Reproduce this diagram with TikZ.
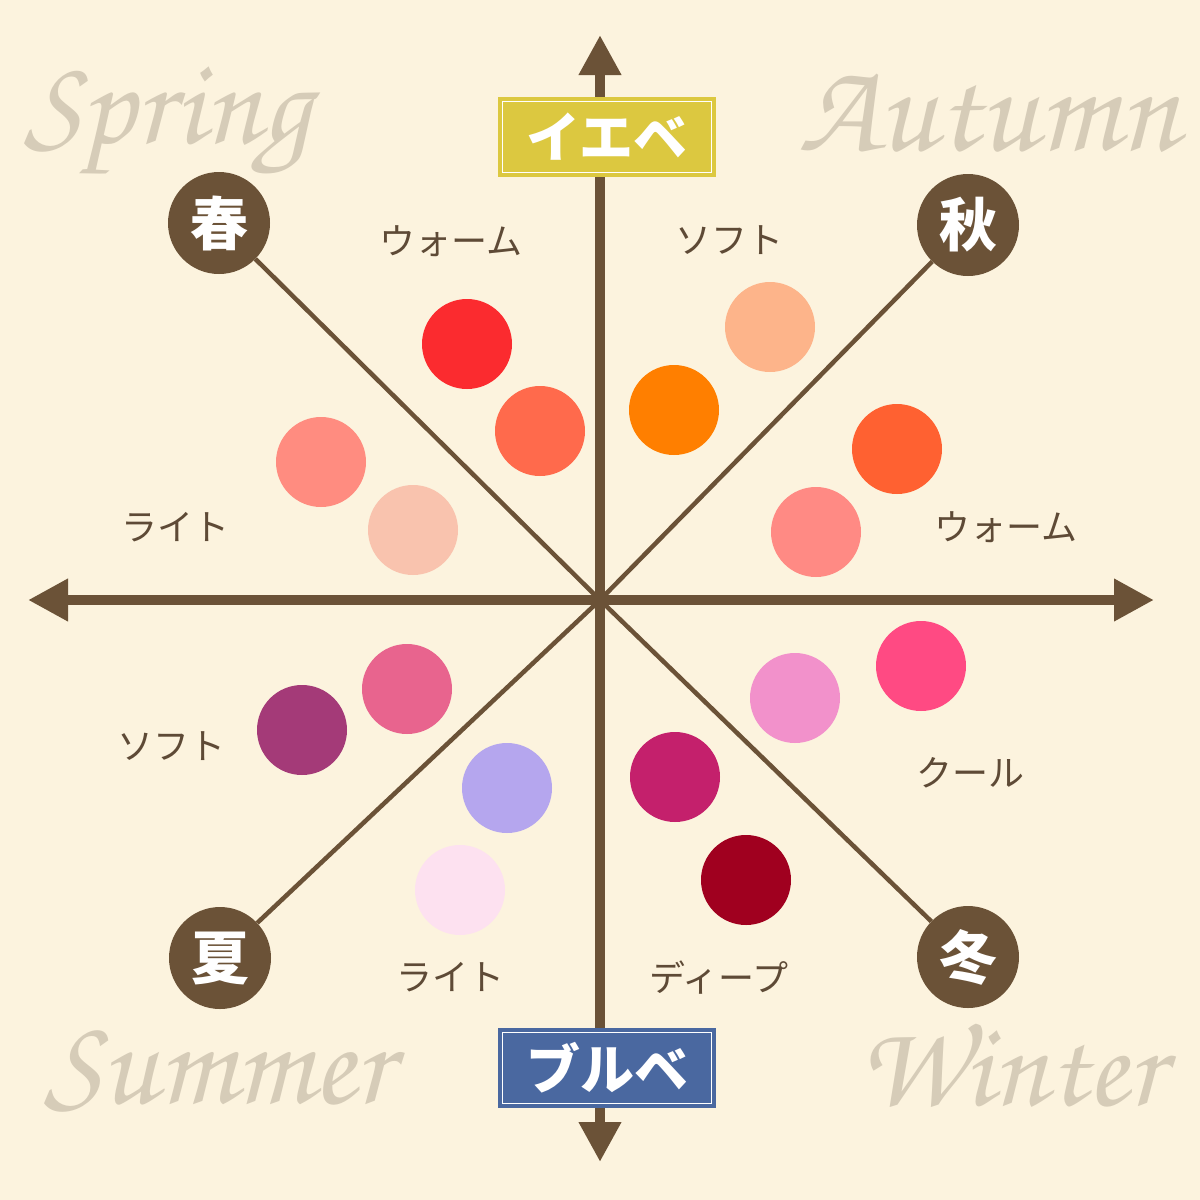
\documentclass[tikz,border=0pt]{standalone}
\usepackage{fontspec}
\usetikzlibrary{arrows.meta}
\newfontfamily\jp{Noto Sans CJK JP}
\newfontfamily\scr{texgyrechorus-mediumitalic.otf}
\definecolor{bg}{HTML}{FCF3DE}
\definecolor{brn}{HTML}{6B5237}
\definecolor{lbl}{HTML}{5E4A36}
\definecolor{scrc}{HTML}{D6CCB8}
\definecolor{ieY}{HTML}{DCC840}
\definecolor{buB}{HTML}{4A68A0}
\definecolor{c1}{HTML}{FB2B2F}
\definecolor{c2}{HTML}{FF6A4C}
\definecolor{c3}{HTML}{FF8C80}
\definecolor{c4}{HTML}{F9C3AE}
\definecolor{c5}{HTML}{FDB48A}
\definecolor{c6}{HTML}{FF7F00}
\definecolor{c7}{HTML}{FF6131}
\definecolor{c8}{HTML}{FF8A84}
\definecolor{c9}{HTML}{FF4A83}
\definecolor{c10}{HTML}{F291CB}
\definecolor{c11}{HTML}{C4206C}
\definecolor{c12}{HTML}{A0001F}
\definecolor{c13}{HTML}{E8648E}
\definecolor{c14}{HTML}{A43A78}
\definecolor{c15}{HTML}{B5A6EE}
\definecolor{c16}{HTML}{FDE1F0}
\tikzset{
  season/.style={circle, fill=brn, inner sep=0pt, minimum size=102pt, text=white,
    font=\jp\bfseries\fontsize{58}{58}\selectfont},
  dot/.style={circle, inner sep=0pt, minimum size=90pt, fill=#1},
  axisline/.style={draw=brn, line width=10pt,
    {Triangle[length=40pt,width=40pt]}-{Triangle[length=40pt,width=40pt]}},
  diag/.style={draw=brn, line width=4.5pt},
  tagbox/.style={rectangle, inner sep=0pt, minimum width=209pt, minimum height=71pt,
    fill=#1, draw=white, line width=1.3pt, preaction={draw=#1, line width=9pt},
    text=white, font=\jp\bfseries\fontsize{54}{54}\selectfont},
  lab/.style={text=lbl, inner sep=0pt, font=\jp\fontsize{36}{36}\selectfont},
  scrtext/.style={text=scrc, inner sep=0pt, anchor=base west}
}
\begin{document}
\begin{tikzpicture}[x=1pt,y=-1pt]
\fill[bg] (0,0) rectangle (1200,1200);
\useasboundingbox (0,0) rectangle (1200,1200);
% script words
\node[scrtext] (wsp) at (24,143) {\resizebox{286pt}{!}{\scr Spring}};
\node[scrtext] (wau) at (798,150) {\resizebox{380pt}{!}{\scr Autumn}};
\node[scrtext] (wsu) at (44,1103) {\resizebox{348pt}{!}{\scr Summer}};
\node[scrtext] (wwi) at (858,1105) {\resizebox{305pt}{!}{\scr Winter}};
% axes
\coordinate (o) at (600,600);
\coordinate (xl) at (28,600);
\coordinate (xr) at (1154,600);
\coordinate (yt) at (600,35);
\coordinate (yb) at (600,1162);
\draw[axisline] (xl) -- (xr);
\draw[axisline] (yb) -- (yt);
% season circles
\node[season] (spring) at (219,223) {春};
\node[season] (autumn) at (968,225) {秋};
\node[season] (summer) at (220,958) {夏};
\node[season] (winter) at (968,957) {冬};
\draw[diag] (o) -- (spring);
\draw[diag] (o) -- (autumn);
\draw[diag] (o) -- (summer);
\draw[diag] (o) -- (winter);
% tag boxes
\node[tagbox=ieY] (ie) at (607,137) {イエベ};
\node[tagbox=buB] (bu) at (607,1068) {ブルベ};
% colour dots
\node[dot=c1] (d1) at (467,344) {};
\node[dot=c2] (d2) at (540,431) {};
\node[dot=c3] (d3) at (321,462) {};
\node[dot=c4] (d4) at (413,530) {};
\node[dot=c5] (d5) at (770,327) {};
\node[dot=c6] (d6) at (674,410) {};
\node[dot=c7] (d7) at (897,449) {};
\node[dot=c8] (d8) at (816,532) {};
\node[dot=c9] (d9) at (921,666) {};
\node[dot=c10] (d10) at (795,698) {};
\node[dot=c11] (d11) at (675,777) {};
\node[dot=c12] (d12) at (746,880) {};
\node[dot=c13] (d13) at (407,689) {};
\node[dot=c14] (d14) at (302,730) {};
\node[dot=c15] (d15) at (507,788) {};
\node[dot=c16] (d16) at (460,890) {};
% labels
\node[lab] (l1) at (451,241) {ウォーム};
\node[lab] (l2) at (729,240) {ソフト};
\node[lab] (l3) at (175,527) {ライト};
\node[lab] (l4) at (1006,527) {ウォーム};
\node[lab] (l5) at (171,746) {ソフト};
\node[lab] (l6) at (970,773) {クール};
\node[lab] (l7) at (450,977) {ライト};
\node[lab] (l8) at (719,978) {ディープ};
\end{tikzpicture}
\end{document}
